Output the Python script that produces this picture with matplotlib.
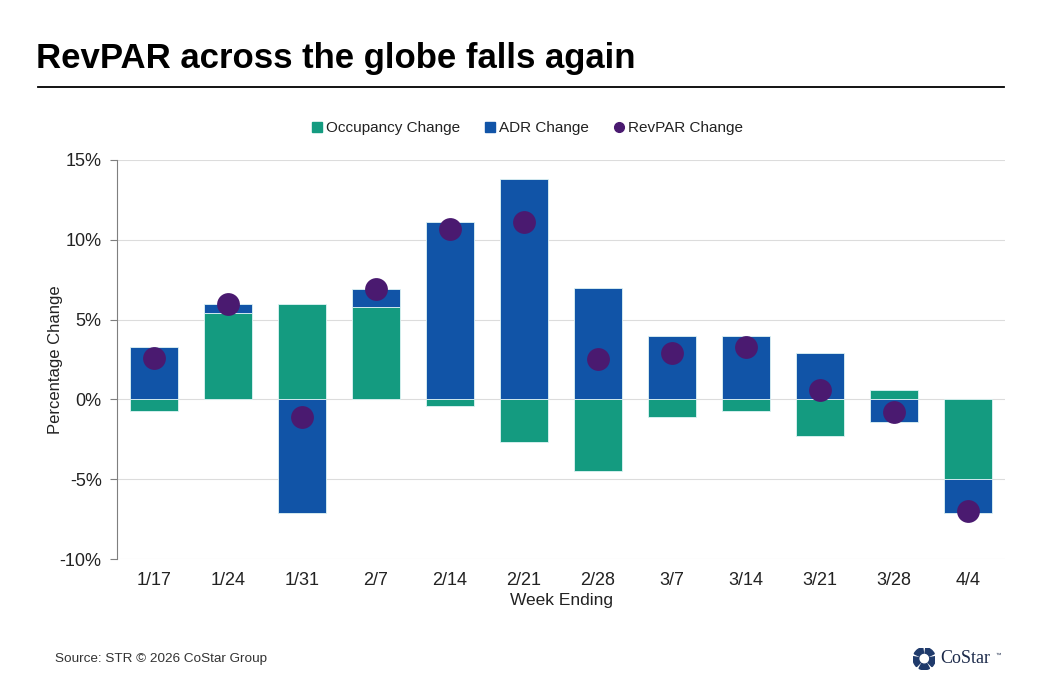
import numpy as np
import matplotlib
matplotlib.use("Agg")
import matplotlib.pyplot as plt
from matplotlib.lines import Line2D
from matplotlib.patches import Wedge

plt.rcParams['font.family'] = ['Liberation Sans', 'DejaVu Sans']

weeks = ['1/17', '1/24', '1/31', '2/7', '2/14', '2/21', '2/28', '3/7', '3/14', '3/21', '3/28', '4/4']
occ_change = [-0.7, 5.4, 6.0, 5.8, -0.4, -2.7, -4.5, -1.1, -0.7, -2.3, 0.6, -5.0]
adr_change = [3.3, 0.6, -7.1, 1.1, 11.1, 13.8, 7.0, 4.0, 4.0, 2.9, -1.4, -2.1]
revpar_change = [2.6, 6.0, -1.1, 6.9, 10.7, 11.1, 2.5, 2.9, 3.3, 0.6, -0.8, -7.0]

GREEN = '#149B80'
BLUE = '#1154A7'
PURPLE = '#4A1A70'

fig = plt.figure(figsize=(10.42, 6.94), dpi=100)
ax = fig.add_axes([0.1123, 0.1945, 0.8522, 0.575])

x = np.arange(len(weeks))
occ = np.array(occ_change)
adr = np.array(adr_change)

# stack positives up and negatives down
occ_bottom = np.zeros(len(weeks))
adr_bottom = np.where(np.sign(adr) == np.sign(occ), occ, 0.0)

w = 0.64
ax.bar(x, occ, w, bottom=occ_bottom, color=GREEN, edgecolor='#dff4f4', linewidth=0.6, zorder=2)
ax.bar(x, adr, w, bottom=adr_bottom, color=BLUE, edgecolor='#dff4f4', linewidth=0.6, zorder=2)
ax.scatter(x, revpar_change, s=270, color=PURPLE, zorder=3, linewidths=0)

ax.set_xlim(-0.5, len(weeks) - 0.5)
ax.set_ylim(-10, 15)
ax.set_yticks(np.arange(-10, 16, 5))
ax.set_yticklabels([f'{v}%' for v in range(-10, 16, 5)])
ax.set_xticks(x)
ax.set_xticklabels(weeks)
ax.tick_params(axis='x', length=0, labelsize=13, pad=9, colors='#222222')
ax.tick_params(axis='y', length=5, width=0.8, color='#7f7f7f', labelsize=13, pad=6, colors='#222222')
ax.grid(axis='y', color='#dcdcdc', linewidth=0.8, zorder=0)
ax.set_axisbelow(True)
for s in ['top', 'right', 'bottom']:
    ax.spines[s].set_visible(False)
ax.spines['left'].set_color('#7f7f7f')
ax.spines['left'].set_linewidth(0.8)
ax.set_ylabel('Percentage Change', fontsize=12, color='#222222', labelpad=-2)
ax.set_xlabel('Week Ending', fontsize=12.5, color='#222222', labelpad=3)

handles = [
    Line2D([], [], marker='s', linestyle='', color=GREEN, markersize=7),
    Line2D([], [], marker='s', linestyle='', color=BLUE, markersize=7),
    Line2D([], [], marker='o', linestyle='', color=PURPLE, markersize=7),
]
fig.legend(handles, ['Occupancy Change', 'ADR Change', 'RevPAR Change'],
           loc='center', bbox_to_anchor=(0.505, 0.815), ncol=3, frameon=False,
           fontsize=11, handletextpad=0.05, columnspacing=1.5, handlelength=1.0,
           labelcolor='#222222')

fig.text(0.035, 0.902, 'RevPAR across the globe falls again', fontsize=25,
         fontweight='bold', color='black', va='baseline', ha='left')
fig.add_artist(Line2D([0.036, 0.964], [0.875, 0.875], color='black', linewidth=1.3))

fig.text(0.053, 0.050, 'Source: STR \u00a9 2026 CoStar Group', fontsize=9.7,
         color='#333333', va='center', ha='left')

# CoStar logo
lax = fig.add_axes([0.871, 0.035, 0.032, 0.032])
lax.set_xlim(-1, 1)
lax.set_ylim(-1, 1)
lax.set_aspect('equal')
lax.axis('off')
for k in range(5):
    a0 = 90 + k * 72 + 8
    lax.add_patch(Wedge((0, 0), 1.0, a0, a0 + 56, width=0.5, color='#1f3a6b'))
fig.text(0.902, 0.051, 'CoStar', fontsize=13, family='Liberation Serif',
         color='#1c2a4a', va='center', ha='left')
fig.text(0.955, 0.056, '\u2122', fontsize=4, color='#1c2a4a', va='center', ha='left')

fig.savefig('out.png', dpi=100)
